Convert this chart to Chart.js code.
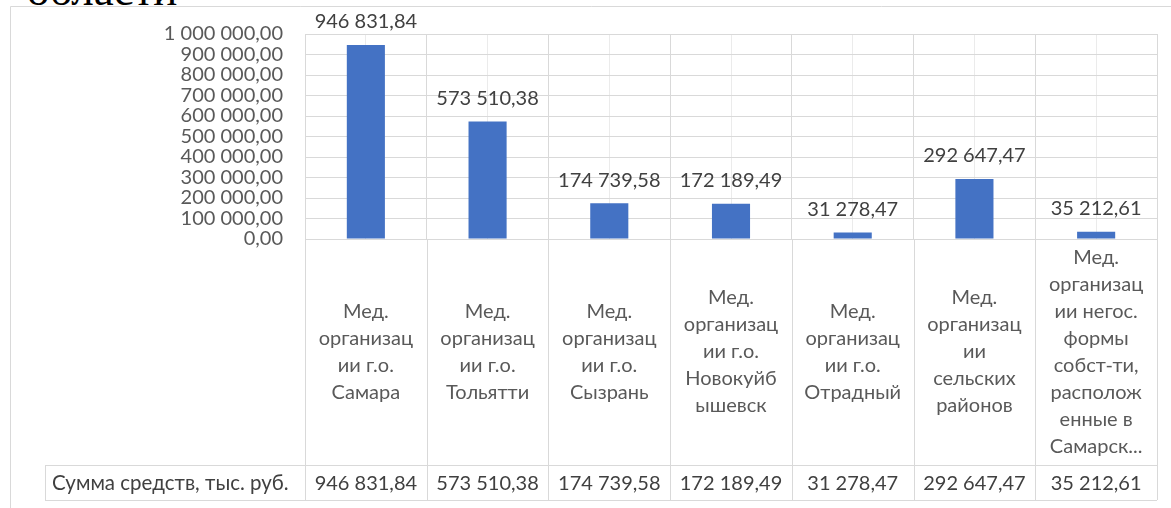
<!DOCTYPE html>
<html lang="ru">
<head>
<meta charset="utf-8">
<title>Сумма средств, тыс. руб.</title>
<script src="https://cdn.jsdelivr.net/npm/chart.js@4.4.1/dist/chart.umd.min.js"></script>
<style>
  html, body { margin: 0; padding: 0; background: #ffffff; }
  #wrap { position: relative; width: 1171px; height: 508px; overflow: hidden; }
  #heading {
    position: absolute; left: 27px; top: -30px;
    font-family: "Liberation Serif", serif; font-size: 45px; line-height: 40px;
    color: #000000; white-space: nowrap;
  }
  canvas { position: absolute; left: 0; top: 0; }
</style>
</head>
<body>
<div id="wrap">
  <div id="heading">области</div>
  <canvas id="chart" width="1171" height="508"></canvas>
</div>
<script>
// Category names, already broken into lines as they appear in the table cells
const categoryLines = [
  ["Мед.", "организац", "ии г.о.", "Самара"],
  ["Мед.", "организац", "ии г.о.", "Тольятти"],
  ["Мед.", "организац", "ии г.о.", "Сызрань"],
  ["Мед.", "организац", "ии г.о.", "Новокуйб", "ышевск"],
  ["Мед.", "организац", "ии г.о.", "Отрадный"],
  ["Мед.", "организац", "ии", "сельских", "районов"],
  ["Мед.", "организац", "ии негос.", "формы", "собст-ти,", "располож", "енные в", "Самарск..."]
];
const categories = categoryLines.map(l => l.join(" "));

// Series
const seriesName = "Сумма средств, тыс. руб.";
const seriesValues = [946831.84, 573510.38, 174739.58, 172189.49, 31278.47, 292647.47, 35212.61];

// Value axis
const yMin = 0;
const yMax = 1000000;
const yStep = 100000;

// Number format: "1 000 000,00"
function fmt(v) {
  const parts = Number(v).toFixed(2).split(".");
  const intPart = parts[0].replace(/\B(?=(\d{3})+(?!\d))/g, " ");
  return intPart + "," + parts[1];
}

const FONT = "Lato, 'Open Sans', sans-serif";
const GRID = "#d9d9d9";
const TEXT = "#595959";
const TEXT_DARK = "#404040";

// Outer frame of the chart object
const framePlugin = {
  id: "frame",
  beforeDraw(chart) {
    const ctx = chart.ctx;
    ctx.save();
    ctx.strokeStyle = GRID;
    ctx.lineWidth = 1;
    ctx.beginPath();
    ctx.moveTo(10.5, chart.height + 2);
    ctx.lineTo(10.5, 6.5);
    ctx.lineTo(chart.width + 2, 6.5);
    ctx.stroke();
    ctx.restore();
  }
};

// Value labels above the bars
const valueLabelPlugin = {
  id: "valueLabels",
  afterDatasetsDraw(chart) {
    const ctx = chart.ctx;
    const meta = chart.getDatasetMeta(0);
    ctx.save();
    ctx.font = "20px " + FONT;
    ctx.fillStyle = TEXT_DARK;
    ctx.textAlign = "center";
    ctx.textBaseline = "middle";
    meta.data.forEach((bar, i) => {
      ctx.fillText(fmt(seriesValues[i]), bar.x, bar.y - 23);
    });
    ctx.restore();
  }
};

// Data table under the plot: category cells and the value row
const dataTablePlugin = {
  id: "dataTable",
  afterDraw(chart) {
    const ctx = chart.ctx;
    const x = chart.scales.x;
    const area = chart.chartArea;
    const n = categories.length;
    const centers = categories.map((c, i) => x.getPixelForValue(i));
    const edges = [x.left];
    for (let i = 1; i < n; i++) edges.push((centers[i - 1] + centers[i]) / 2);
    edges.push(x.right);

    const top = area.bottom;
    const rowTop = 465;
    const rowBottom = 500;
    const headerLeft = 45;
    const px = v => Math.round(v) + 0.5;

    ctx.save();
    ctx.strokeStyle = GRID;
    ctx.lineWidth = 1;
    ctx.beginPath();
    edges.forEach(e => {
      ctx.moveTo(px(e), top);
      ctx.lineTo(px(e), rowBottom);
    });
    ctx.moveTo(px(headerLeft), rowTop);
    ctx.lineTo(px(headerLeft), rowBottom);
    ctx.moveTo(headerLeft, px(rowTop));
    ctx.lineTo(x.right, px(rowTop));
    ctx.moveTo(headerLeft, px(rowBottom));
    ctx.lineTo(x.right, px(rowBottom));
    ctx.stroke();

    // category names, centred in each cell
    const lh = 27;
    const midY = (top + rowTop) / 2;
    ctx.font = "20px " + FONT;
    ctx.fillStyle = TEXT;
    ctx.textAlign = "center";
    ctx.textBaseline = "middle";
    categoryLines.forEach((lines, i) => {
      const y0 = midY - (lines.length - 1) * lh / 2;
      lines.forEach((t, k) => ctx.fillText(t, centers[i], y0 + k * lh));
    });

    // value row
    const rowMid = (rowTop + rowBottom) / 2 + 1;
    ctx.fillStyle = TEXT_DARK;
    seriesValues.forEach((v, i) => ctx.fillText(fmt(v), centers[i], rowMid));
    ctx.textAlign = "left";
    ctx.font = "20.5px " + FONT;
    ctx.fillText(seriesName, headerLeft + 7, rowMid);
    ctx.restore();
  }
};

new Chart(document.getElementById("chart"), {
  type: "bar",
  data: {
    labels: categories,
    datasets: [{
      label: seriesName,
      data: seriesValues,
      backgroundColor: "#4472c4",
      borderWidth: 0,
      categoryPercentage: 1,
      barPercentage: 0.313
    }]
  },
  options: {
    responsive: false,
    animation: false,
    events: [],
    layout: { padding: { top: 33, right: 14, left: 0, bottom: 0 } },
    plugins: {
      legend: { display: false },
      tooltip: { enabled: false },
      title: { display: false }
    },
    scales: {
      x: {
        type: "category",
        offset: true,
        grid: { offset: true, color: GRID, drawTicks: false },
        border: { display: false },
        ticks: { display: false },
        afterFit(s) { s.height = 269; }
      },
      xCenters: {
        type: "category",
        position: "top",
        labels: categories,
        offset: true,
        grid: { offset: false, color: "#ebebeb", drawTicks: false },
        border: { display: false },
        ticks: { display: false },
        afterFit(s) { s.height = 0; }
      },
      y: {
        min: yMin,
        max: yMax,
        grid: { color: GRID, drawTicks: false },
        border: { display: false },
        ticks: {
          stepSize: yStep,
          autoSkip: false,
          padding: 22,
          color: TEXT,
          font: { family: FONT, size: 20 },
          callback: v => fmt(v)
        },
        afterFit(s) { s.width = 305; }
      }
    }
  },
  plugins: [framePlugin, valueLabelPlugin, dataTablePlugin]
});
</script>
</body>
</html>
